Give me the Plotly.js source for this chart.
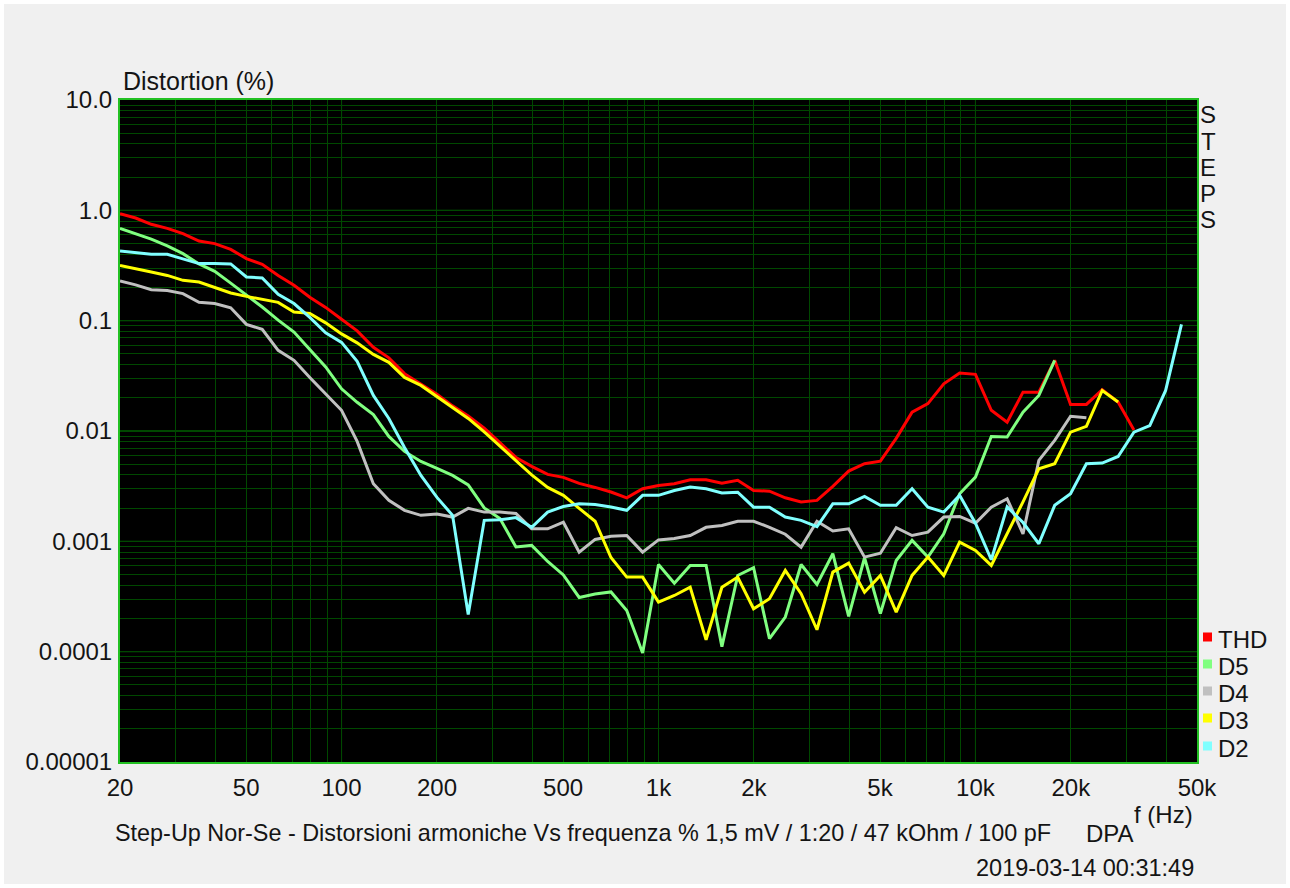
<!DOCTYPE html>
<html>
<head>
<meta charset="utf-8">
<script src="https://cdn.plot.ly/plotly-3.0.1.min.js"></script>
<style>
  html, body { margin: 0; padding: 0; background: #ffffff; }
  #chart { position: absolute; left: 4px; top: 4px; width: 1282px; height: 880px; }
</style>
</head>
<body>
<div id="chart"></div>
<script>
// Frequencies (Hz), 1/20-decade steps
const freq = [20, 22.4, 25.1, 28.2, 31.6, 35.5, 39.8, 44.7, 50.1, 56.2, 63.1, 70.8, 79.4, 89.1, 100, 112, 126, 141, 158, 178,
  200, 224, 251, 282, 316, 355, 398, 447, 501, 562, 631, 708, 794, 891, 1000, 1122, 1259, 1413, 1585, 1778,
  1995, 2239, 2512, 2818, 3162, 3548, 3981, 4467, 5012, 5623, 6310, 7079, 7943, 8913, 10000, 11220, 12589, 14125, 15849, 17783,
  19953, 22387, 25119, 28184, 31623, 35481, 39811, 44668];

const seriesNames = ["THD", "D5", "D4", "D3", "D2"];

const thd = [0.933, 0.852, 0.747, 0.687, 0.615, 0.527, 0.499, 0.443, 0.365, 0.324,
  0.257, 0.209, 0.163, 0.132, 0.103, 0.0808, 0.0573, 0.046, 0.0331, 0.0267,
  0.0215, 0.0169, 0.0137, 0.0106, 0.00788, 0.00576, 0.00478, 0.00404, 0.0038, 0.00335,
  0.00308, 0.0028, 0.00248, 0.003, 0.00321, 0.00333, 0.00362, 0.00362, 0.00337, 0.00357,
  0.00289, 0.00285, 0.00248, 0.00227, 0.00235, 0.00315, 0.00433, 0.00505, 0.00533, 0.00857,
  0.0148, 0.0177, 0.0268, 0.0335, 0.0326, 0.0154, 0.012, 0.0225, 0.0225, 0.0437,
  0.0174, 0.0174, 0.0237, 0.0183, 0.0102];

const d5 = [0.687, 0.612, 0.549, 0.477, 0.405, 0.327, 0.28, 0.219, 0.171, 0.133,
  0.101, 0.0788, 0.0549, 0.0381, 0.0241, 0.0182, 0.0141, 0.00893, 0.00653, 0.0053,
  0.00458, 0.00396, 0.00325, 0.00201, 0.00161, 0.000889, 0.000918, 0.000657, 0.000496, 0.00031,
  0.000333, 0.000348, 0.000236, 0.0000973, 0.000617, 0.000418, 0.000605, 0.000605, 0.000111, 0.000491,
  0.000576, 0.000131, 0.000206, 0.000617, 0.000407, 0.000772, 0.000209, 0.00071, 0.000221, 0.000671,
  0.00102, 0.000719, 0.00117, 0.0027, 0.00382, 0.00893, 0.00881, 0.0148, 0.021, 0.0437];

const d4 = [0.229, 0.211, 0.191, 0.188, 0.176, 0.147, 0.143, 0.131, 0.0926, 0.0834,
  0.0538, 0.0437, 0.0306, 0.0215, 0.0154, 0.00804, 0.00333, 0.00235, 0.00191, 0.00172,
  0.00177, 0.00166, 0.00199, 0.00184, 0.00184, 0.00179, 0.0013, 0.0013, 0.00149, 0.000798,
  0.00104, 0.00111, 0.00113, 0.000798, 0.00103, 0.00106, 0.00113, 0.00134, 0.00139, 0.00152,
  0.00152, 0.00134, 0.00116, 0.000886, 0.00152, 0.00124, 0.0013, 0.000719, 0.000781, 0.00133,
  0.00113, 0.00121, 0.00166, 0.00168, 0.00146, 0.00204, 0.00243, 0.00117, 0.00541, 0.00822,
  0.0136, 0.0132];

const d3 = [0.317, 0.294, 0.276, 0.257, 0.232, 0.224, 0.199, 0.178, 0.166, 0.155,
  0.1465, 0.12, 0.1165, 0.0955, 0.0759, 0.0629, 0.0495, 0.0419, 0.0306, 0.0259,
  0.0206, 0.0162, 0.013, 0.00981, 0.00725, 0.00541, 0.004, 0.00308, 0.00261, 0.00199,
  0.00152, 0.000714, 0.000474, 0.000474, 0.000281, 0.000323, 0.000384, 0.000128, 0.000384, 0.000474,
  0.000245, 0.000302, 0.000545, 0.000335, 0.000158, 0.000526, 0.000635, 0.000346, 0.000491, 0.000228,
  0.000491, 0.000719, 0.000491, 0.000983, 0.000827, 0.000605, 0.00117, 0.00228, 0.00455, 0.00505,
  0.00977, 0.011, 0.0233, 0.0183];

const d2 = [0.428, 0.416, 0.399, 0.399, 0.365, 0.329, 0.329, 0.327, 0.249, 0.244,
  0.173, 0.143, 0.107, 0.0775, 0.0636, 0.0428, 0.021, 0.013, 0.0071, 0.00396,
  0.0025, 0.00172, 0.000217, 0.00155, 0.00157, 0.00164, 0.00134, 0.00184, 0.00207, 0.00219,
  0.00216, 0.00205, 0.00191, 0.00261, 0.00261, 0.00289, 0.0031, 0.003, 0.00274, 0.00279,
  0.00204, 0.00204, 0.00166, 0.00155, 0.00136, 0.00219, 0.00219, 0.00255, 0.00212, 0.00212,
  0.003, 0.00204, 0.00184, 0.00261, 0.00146, 0.000681, 0.00205, 0.00148, 0.000951, 0.00212,
  0.0027, 0.00505, 0.00512, 0.00588, 0.00977, 0.0112, 0.0233, 0.0926];

const xTickVals = [20, 50, 100, 200, 500, 1000, 2000, 5000, 10000, 20000, 50000];
const xTickText = ["20", "50", "100", "200", "500", "1k", "2k", "5k", "10k", "20k", "50k"];
const yTickVals = [0.00001, 0.0001, 0.001, 0.01, 0.1, 1, 10];
const yTickText = ["0.00001", "0.0001", "0.001", "0.01", "0.1", "1.0", "10.0"];

const captionText = "Step-Up Nor-Se - Distorsioni armoniche Vs frequenza % 1,5 mV / 1:20 / 47 kOhm / 100 pF";
const dateText = "2019-03-14 00:31:49";

// ---- styling ----
const colors = {THD: "#ff0000", D5: "#80ff80", D4: "#c0c0c0", D3: "#ffff00", D2: "#80ffff"};
const seriesData = {THD: thd, D5: d5, D4: d4, D3: d3, D2: d2};
const FONT = "Liberation Sans, Arial, sans-serif";
const TXT = "#141414";
const GRID_MINOR = "#004800";
const GRID_MAJOR = "#009000";
const BORDER = "#22c022";

// full grid positions (labelled + unlabelled)
function gridWithLabels(decadeStart, decadeEnd, lo, hi, labVals, labText) {
  const vals = [], text = [];
  for (let e = decadeStart; e <= decadeEnd; e++) {
    for (let m = 1; m <= 9; m++) {
      const v = +(m * Math.pow(10, e)).toPrecision(6);
      if (v < lo * 0.999 || v > hi * 1.001) continue;
      vals.push(v);
      const k = labVals.findIndex(t => Math.abs(t - v) / v < 1e-6);
      text.push(k >= 0 ? labText[k] : "");
    }
  }
  return {vals, text};
}
const xg = gridWithLabels(1, 4, 20, 50000, xTickVals, xTickText);
const yg = gridWithLabels(-5, 1, 0.00001, 10, yTickVals, yTickText);

const traces = seriesNames.map(name => ({
  type: "scatter",
  mode: "lines",
  name: name,
  x: freq.slice(0, seriesData[name].length),
  y: seriesData[name],
  line: {color: colors[name], width: 3},
  hoverinfo: "x+y+name",
  showlegend: false
}));

// pixel -> paper helpers (plot area 120..1197 x 100..762 in page pixels)
const PL = 120, PR = 1197, PT = 100, PB = 762;
const px = X => (X - PL) / (PR - PL);
const py = Y => (PB - Y) / (PB - PT);

const shapes = [];
[100, 1000, 10000].forEach(v => shapes.push({
  type: "line", xref: "x", yref: "paper", x0: v, x1: v, y0: 0, y1: 1,
  line: {color: GRID_MAJOR, width: 1}, layer: "between"
}));
[0.0001, 0.001, 0.01, 0.1, 1].forEach(v => shapes.push({
  type: "line", xref: "paper", yref: "y", x0: 0, x1: 1, y0: v, y1: v,
  line: {color: GRID_MAJOR, width: 1}, layer: "between"
}));

const annotations = [];
annotations.push({xref: "paper", yref: "paper", x: px(121), y: py(81), xanchor: "left", yanchor: "middle",
  text: "Distortion (%)", showarrow: false, font: {family: FONT, size: 25, color: TXT}});

// STEPS vertical label
const stepsY = [115, 141, 167, 193, 219];
"STEPS".split("").forEach((ch, k) => annotations.push({
  xref: "paper", yref: "paper", x: px(1208), y: py(stepsY[k]), xanchor: "center", yanchor: "middle",
  text: ch, showarrow: false, font: {family: FONT, size: 24, color: TXT}
}));

// legend (square + label)
const legY = [637, 664, 691, 718, 746];
seriesNames.forEach((name, k) => {
  const cy = legY[k];
  shapes.push({type: "rect", xref: "paper", yref: "paper",
    x0: px(1203), x1: px(1212), y0: py(cy + 4.5), y1: py(cy - 4.5),
    fillcolor: colors[name], line: {width: 0}});
  annotations.push({xref: "paper", yref: "paper", x: px(1216), y: py(cy + 2), xanchor: "left", yanchor: "middle",
    text: name, showarrow: false, font: {family: FONT, size: 24, color: TXT}});
});

annotations.push({xref: "paper", yref: "paper", x: px(1163), y: py(814), xanchor: "center", yanchor: "middle",
  text: "f (Hz)", showarrow: false, font: {family: FONT, size: 24, color: TXT}});
annotations.push({xref: "paper", yref: "paper", x: px(113), y: py(833), xanchor: "left", yanchor: "middle",
  text: captionText, showarrow: false, font: {family: FONT, size: 23.4, color: TXT}});
annotations.push({xref: "paper", yref: "paper", x: px(1084), y: py(833), xanchor: "left", yanchor: "middle",
  text: "DPA", showarrow: false, font: {family: FONT, size: 24, color: TXT}});
annotations.push({xref: "paper", yref: "paper", x: px(1196), y: py(868), xanchor: "right", yanchor: "middle",
  text: dateText, showarrow: false, font: {family: FONT, size: 23.5, color: TXT}});

const layout = {
  width: 1282, height: 880,
  margin: {l: PL - 4, r: 1282 - (PR - 4), t: PT - 4, b: 880 - (PB - 4), pad: 0},
  paper_bgcolor: "#f0f0f0",
  plot_bgcolor: "#000000",
  showlegend: false,
  font: {family: FONT, size: 24, color: TXT},
  xaxis: {
    type: "log",
    range: [Math.log10(20), Math.log10(50000)],
    tickmode: "array", tickvals: xg.vals, ticktext: xg.text,
    showgrid: true, gridcolor: GRID_MINOR, gridwidth: 1,
    zeroline: false, ticks: "", ticklabelstandoff: 3,
    showline: true, mirror: true, linecolor: BORDER, linewidth: 2,
    tickfont: {family: FONT, size: 24, color: TXT}
  },
  yaxis: {
    type: "log",
    range: [-5, 1],
    tickmode: "array", tickvals: yg.vals, ticktext: yg.text,
    showgrid: true, gridcolor: GRID_MINOR, gridwidth: 1,
    zeroline: false, ticks: "", ticklabelstandoff: 1,
    showline: true, mirror: true, linecolor: BORDER, linewidth: 2,
    tickfont: {family: FONT, size: 24, color: TXT}
  },
  shapes: shapes,
  annotations: annotations
};

Plotly.newPlot("chart", traces, layout, {displayModeBar: false, staticPlot: true});
</script>
</body>
</html>
